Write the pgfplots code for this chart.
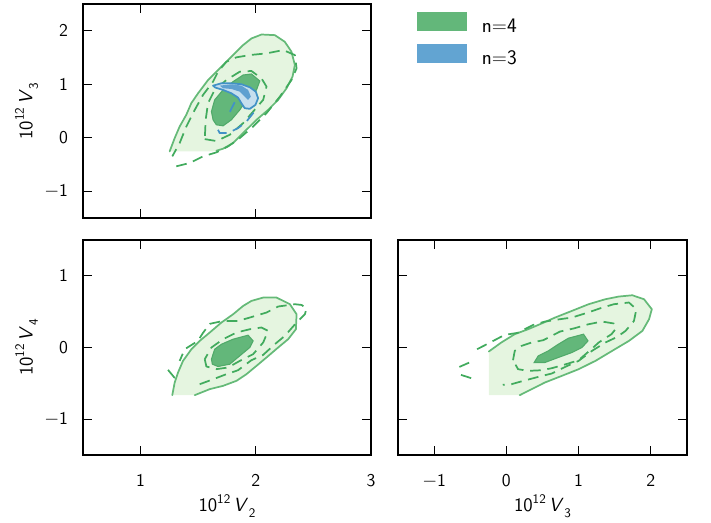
\documentclass[border=0pt]{standalone}
\usepackage{pgfplots}
\pgfplotsset{compat=1.18}
\definecolor{glight}{RGB}{229,245,224}
\definecolor{gsolid}{RGB}{101,186,120}
\definecolor{gdash}{RGB}{65,171,93}
\definecolor{gblob}{RGB}{99,183,122}
\definecolor{gblobline}{RGB}{80,170,105}
\definecolor{gleg}{RGB}{99,183,122}
\definecolor{bleg}{RGB}{98,164,210}
\definecolor{blight}{RGB}{198,223,238}
\definecolor{bline}{RGB}{66,146,198}
\definecolor{bmid}{RGB}{95,160,208}
\newcommand{\fl}{\sffamily\fontsize{15.5}{17}\selectfont}
\newcommand{\lab}[1]{\sffamily\fontsize{14.3}{16}\selectfont 10\raisebox{0.45em}{\fontsize{9.8}{11}\selectfont 12}\,\textit{V}\kern0.03em\raisebox{-0.28em}{\fontsize{9.8}{11}\selectfont #1}}
\pgfplotsset{
  cstyle/.style={scale only axis, tick align=inside, major tick length=7pt,
    every tick/.style={black, line width=0.9pt},
    axis line style={line width=1.6pt},
    every tick label/.append style={font=\sffamily\fontsize{13.5}{15}\selectfont, inner sep=0pt},
    xticklabel style={yshift=-14.5pt},
    yticklabel style={xshift=-11pt},
    xtick pos=both, ytick pos=both, xticklabel pos=lower, yticklabel pos=left,
    every axis y label/.style={at={(axis description cs:-0.196,0.5)}, rotate=90, anchor=center, inner sep=0pt},
    every axis x label/.style={at={(axis description cs:0.5,-0.265)}, anchor=base, inner sep=0pt},
  },
  gsl/.style={draw=gsolid, line width=1.3pt, line join=round, line cap=round},
  gdl/.style={draw=gdash, line width=1.3pt, dash pattern=on 8pt off 5pt, line join=round},
  bsl/.style={draw=bline, line width=1.3pt, line join=round, line cap=round},
  bdl/.style={draw=bline, line width=1.3pt, dash pattern=on 8pt off 5pt, line join=round},
}
\begin{document}
\begin{tikzpicture}
\useasboundingbox (0,0) rectangle (533.25pt,-391.5pt);
% ---------------- top-left: V2 vs V3
\begin{axis}[cstyle, at={(62.25pt,-3pt)}, anchor=north west, width=216pt, height=160.5pt,
  xmin=0.5, xmax=3, ymin=-1.5, ymax=2.5,
  xtick={1,2,3}, xticklabels={},
  ytick={-1,0,1,2}, yticklabels={$-$1,0,1,2},
  ylabel={\lab{3}},
  legend image code/.code={\fill[#1, draw=none] (0pt,-3pt) rectangle (37.5pt,11pt);},
  legend style={at={(1.1597,0.9626)}, anchor=north west, draw=none, fill=none, inner sep=0pt,
    nodes={inner sep=0pt, font=\fl}, row sep=7pt},
  legend cell align=left]
\addlegendimage{fill=gleg, draw=none}
\addlegendimage{fill=bleg, draw=none}
\addplot[fill=glight, draw=none] coordinates {(1.252,-0.255)(1.296,-0.006)(1.339,0.21)(1.397,0.43)(1.44,0.646)(1.499,0.832)(1.586,1.08)(1.687,1.297)(1.788,1.514)(1.89,1.732)(1.962,1.856)(2.05,1.93)(2.165,1.918)(2.252,1.793)(2.31,1.607)(2.339,1.359)(2.319,1.142)(2.267,0.925)(2.194,0.708)(2.107,0.521)(2.006,0.335)(1.904,0.118)(1.803,-0.1)(1.716,-0.205)(1.658,-0.242)(1.62,-0.255)} -- cycle;
\addplot[gsl] coordinates {(1.252,-0.255)(1.296,-0.006)(1.339,0.21)(1.397,0.43)(1.44,0.646)(1.499,0.832)(1.586,1.08)(1.687,1.297)(1.788,1.514)(1.89,1.732)(1.962,1.856)(2.05,1.93)(2.165,1.918)(2.252,1.793)(2.31,1.607)(2.339,1.359)(2.319,1.142)(2.267,0.925)(2.194,0.708)(2.107,0.521)(2.006,0.335)(1.904,0.118)(1.803,-0.1)(1.716,-0.205)(1.658,-0.242)};
\addplot[gdl] coordinates {(1.31,-0.534)(1.426,-0.472)(1.542,-0.348)(1.658,-0.273)(1.759,-0.162)(1.861,-0.006)(1.977,0.21)(2.093,0.46)(2.209,0.769)(2.31,1.08)(2.354,1.297)(2.339,1.546)(2.238,1.639)(2.093,1.577)(1.948,1.546)(1.832,1.503)(1.745,1.421)(1.672,1.235)(1.629,1.049)(1.542,0.801)(1.47,0.521)(1.397,0.21)(1.339,-0.1)(1.275,-0.348)};
\addplot[gdl] coordinates {(1.557,-0.025)(1.658,-0.062)(1.774,0.056)(1.89,0.273)(1.977,0.49)(2.064,0.708)(2.093,0.956)(2.049,1.111)(1.962,1.248)(1.861,1.235)(1.745,1.08)(1.643,0.894)(1.585,0.646)(1.565,0.335)(1.557,-0.025)};
\addplot[fill=gblob, draw=gblobline, line width=0.8pt] coordinates {(1.629,0.335)(1.615,0.49)(1.643,0.708)(1.716,0.894)(1.803,1.049)(1.89,1.173)(1.962,1.192)(2.035,1.061)(2.006,0.894)(1.919,0.708)(1.861,0.521)(1.788,0.335)(1.716,0.223)(1.658,0.242)} -- cycle;
\addplot[fill=blight, bsl] coordinates {(1.629,0.974)(1.701,1.018)(1.788,1.018)(1.875,1.0)(1.948,0.944)(2.0,0.862)(2.02,0.739)(1.997,0.615)(1.948,0.54)(1.904,0.553)(1.875,0.646)(1.846,0.75)(1.788,0.832)(1.716,0.894)(1.649,0.937)} -- cycle;
\addplot[fill=bmid, draw=none] coordinates {(1.687,0.974)(1.788,1.0)(1.875,0.974)(1.933,0.894)(1.957,0.769)(1.933,0.708)(1.904,0.769)(1.861,0.862)(1.788,0.912)(1.716,0.925)} -- cycle;
\addplot[bdl] coordinates {(1.672,0.149)(1.687,0.087)(1.759,0.087)(1.846,0.18)(1.919,0.304)(1.977,0.46)(2.0,0.56)};
\addplot[bdl] coordinates {(1.817,0.664)(1.783,0.521)(1.765,0.43)};
\legend{\hspace*{11pt}n=4, \hspace*{11pt}n=3}
\end{axis}
% ---------------- bottom-left: V2 vs V4
\begin{axis}[cstyle, at={(62.25pt,-180pt)}, anchor=north west, width=216pt, height=161.25pt,
  xmin=0.5, xmax=3, ymin=-1.5, ymax=1.5,
  xtick={1,2,3}, xticklabels={1,2,3},
  ytick={-1,0,1}, yticklabels={$-$1,0,1},
  xlabel={\lab{2}},
  ylabel={\lab{4}}]
\addplot[fill=glight, draw=none] coordinates {(1.275,-0.665)(1.296,-0.488)(1.325,-0.349)(1.368,-0.187)(1.441,-0.024)(1.513,0.092)(1.6,0.209)(1.702,0.349)(1.803,0.464)(1.89,0.58)(1.962,0.65)(2.064,0.697)(2.18,0.697)(2.296,0.604)(2.354,0.464)(2.348,0.255)(2.281,0.116)(2.194,0.0)(2.093,-0.139)(2.006,-0.256)(1.919,-0.372)(1.832,-0.465)(1.716,-0.535)(1.6,-0.581)(1.47,-0.665)} -- cycle;
\addplot[gsl] coordinates {(1.275,-0.665)(1.296,-0.488)(1.325,-0.349)(1.368,-0.187)(1.441,-0.024)(1.513,0.092)(1.6,0.209)(1.702,0.349)(1.803,0.464)(1.89,0.58)(1.962,0.65)(2.064,0.697)(2.18,0.697)(2.296,0.604)(2.354,0.464)(2.348,0.255)(2.281,0.116)(2.194,0.0)(2.093,-0.139)(2.006,-0.256)(1.919,-0.372)(1.832,-0.465)(1.716,-0.535)(1.6,-0.581)(1.47,-0.665)};
\addplot[gdl] coordinates {(1.513,-0.512)(1.615,-0.452)(1.745,-0.372)(1.846,-0.317)(1.962,-0.177)(2.064,-0.103)(2.165,0.046)(2.252,0.162)(2.354,0.349)(2.426,0.464)(2.441,0.544)(2.397,0.594)(2.339,0.604)(2.194,0.572)(2.093,0.488)(1.948,0.418)(1.846,0.371)(1.716,0.371)(1.6,0.33)(1.54,0.2)(1.498,0.092)(1.383,-0.024)(1.339,-0.187)};
\addplot[gdl] coordinates {(1.238,-0.312)(1.31,-0.452)};
\addplot[gdl] coordinates {(1.557,-0.163)(1.571,-0.265)(1.658,-0.302)(1.759,-0.279)(1.861,-0.187)(1.977,-0.093)(2.064,0.07)(2.107,0.232)(2.049,0.279)(1.948,0.255)(1.832,0.209)(1.716,0.116)(1.615,0.0)(1.557,-0.163)};
\addplot[fill=gblob, draw=gblobline, line width=0.8pt] coordinates {(1.615,-0.163)(1.643,-0.024)(1.702,0.046)(1.803,0.116)(1.933,0.172)(1.977,0.092)(1.948,0.0)(1.861,-0.116)(1.774,-0.233)(1.672,-0.265)(1.623,-0.233)} -- cycle;
\end{axis}
% ---------------- bottom-right: V3 vs V4
\begin{axis}[cstyle, at={(298.5pt,-180pt)}, anchor=north west, width=216.75pt, height=161.25pt,
  xmin=-1.5, xmax=2.5, ymin=-1.5, ymax=1.5,
  xtick={-1,0,1,2}, xticklabels={$-$1,0,1,2},
  ytick={-1,0,1}, yticklabels={},
  xlabel={\lab{3}}]
\addplot[fill=glight, draw=none] coordinates {(-0.243,-0.056)(-0.07,0.07)(0.116,0.186)(0.301,0.255)(0.488,0.335)(0.674,0.418)(0.907,0.511)(1.138,0.604)(1.371,0.674)(1.556,0.711)(1.743,0.729)(1.905,0.674)(2.013,0.534)(1.975,0.395)(1.883,0.232)(1.696,0.092)(1.464,-0.047)(1.232,-0.187)(0.999,-0.303)(0.767,-0.396)(0.534,-0.488)(0.349,-0.582)(0.185,-0.665)(-0.243,-0.665)} -- cycle;
\addplot[gsl] coordinates {(-0.243,-0.056)(-0.07,0.07)(0.116,0.186)(0.301,0.255)(0.488,0.335)(0.674,0.418)(0.907,0.511)(1.138,0.604)(1.371,0.674)(1.556,0.711)(1.743,0.729)(1.905,0.674)(2.013,0.534)(1.975,0.395)(1.883,0.232)(1.696,0.092)(1.464,-0.047)(1.232,-0.187)(0.999,-0.303)(0.767,-0.396)(0.534,-0.488)(0.349,-0.582)(0.185,-0.665)};
\addplot[gdl] coordinates {(-0.405,-0.024)(-0.209,0.078)(-0.024,0.176)(0.153,0.204)(0.371,0.315)(0.534,0.362)(0.743,0.395)(0.907,0.418)(1.13,0.488)(1.301,0.548)(1.487,0.604)(1.696,0.628)(1.799,0.534)(1.766,0.371)(1.65,0.232)(1.534,0.148)(1.371,0.07)(1.185,-0.047)(0.999,-0.187)(0.813,-0.271)(0.628,-0.363)(0.441,-0.41)(0.232,-0.466)(0.07,-0.512)(-0.05,-0.52)};
\addplot[gdl] coordinates {(-0.651,-0.271)(-0.479,-0.195)};
\addplot[gdl] coordinates {(-0.628,-0.382)(-0.442,-0.442)};
\addplot[gdl] coordinates {(0.092,-0.177)(0.116,-0.047)(0.209,0.022)(0.349,0.07)(0.511,0.102)(0.743,0.223)(0.929,0.265)(1.138,0.325)(1.325,0.362)(1.487,0.335)(1.51,0.255)(1.455,0.186)(1.278,0.07)(1.176,-0.024)(0.999,-0.177)(0.859,-0.223)(0.628,-0.289)(0.488,-0.317)(0.301,-0.326)(0.162,-0.303)(0.092,-0.177)};
\addplot[fill=gblob, draw=gblobline, line width=0.8pt] coordinates {(0.385,-0.209)(0.441,-0.117)(0.58,-0.047)(0.72,0.046)(0.859,0.13)(1.068,0.186)(1.13,0.092)(1.046,0.0)(0.907,-0.07)(0.72,-0.139)(0.534,-0.209)} -- cycle;
\end{axis}
\end{tikzpicture}
\end{document}
